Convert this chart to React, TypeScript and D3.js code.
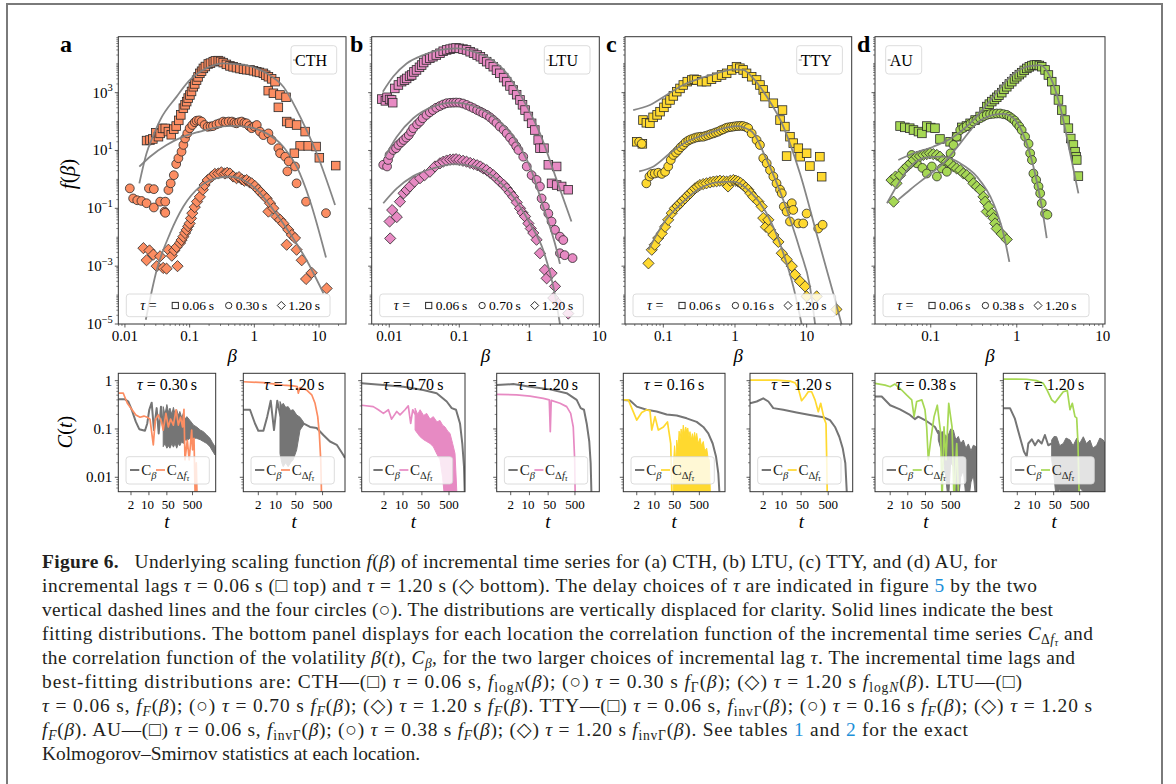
import React from 'react';
import * as d3 from 'd3';

type Pt = [number, number];
type Band = [number, number, number];
type Seg = [string, string?];

const SERIF = '"Liberation Serif", "DejaVu Serif", serif';
const GREY = '#808080';
const EDGE = '#2a2a2a';

const cthColor = '#fc8d62';
const ltuColor = '#e78ac3';
const ttyColor = '#ffd92f';
const auColor = '#a6d854';

// ---------- top row: f(beta), three lags per site ----------
const cthTaus = ['0.06', '0.30', '1.20'];
const ltuTaus = ['0.06', '0.70', '1.20'];
const ttyTaus = ['0.06', '0.16', '1.20'];
const auTaus = ['0.06', '0.38', '1.20'];

const cthSquares: Pt[] = [[0.0216,22],[0.0244,23],[0.027,25],[0.030,41],[0.033,30],[0.035,39],[0.038,58],[0.042,58],[0.047,45],[0.052,35],[0.057,55],[0.062,70],[0.068,110],[0.073,170],[0.08,290],[0.085,380],[0.09,490],[0.095,650],[0.101,830],[0.107,1100],[0.114,1600],[0.12,2000],[0.128,2700],[0.135,3500],[0.144,4650],[0.153,5500],[0.163,6900],[0.175,8000],[0.194,9800],[0.21,10500],[0.232,11800],[0.25,12500],[0.277,12800],[0.3,12000],[0.33,10900],[0.37,9500],[0.42,8400],[0.47,7800],[0.53,7300],[0.6,6800],[0.68,6400],[0.76,6200],[0.86,6100],[0.97,5700],[1.09,5300],[1.2,5000],[1.38,4650],[1.5,4000],[1.65,3550],[1.85,3000],[2.09,2400],[1.64,1170],[1.97,950],[2.49,830],[2.35,310],[3.09,690],[3.16,100],[3.56,87],[4.5,76],[6.1,45],[5.1,14.4],[6.8,14.4],[9.0,13.7],[4.15,8],[10.1,5.6],[18.1,3.0]];
const cthCircles: Pt[] = [[0.0119,0.49],[0.0134,0.22],[0.0155,0.19],[0.018,0.18],[0.0216,0.15],[0.0235,0.49],[0.028,0.46],[0.028,0.107],[0.035,0.17],[0.041,0.077],[0.042,0.07],[0.042,0.17],[0.047,0.43],[0.051,0.73],[0.057,1.4],[0.062,3.4],[0.067,5.4],[0.075,9.1],[0.08,15.6],[0.085,26],[0.092,39],[0.1,59],[0.11,76],[0.12,95],[0.128,107],[0.14,110],[0.153,100],[0.17,76],[0.19,66],[0.21,68],[0.23,70],[0.26,80],[0.29,87],[0.33,100],[0.36,95],[0.4,100],[0.45,100],[0.49,92],[0.53,87],[0.58,95],[0.64,100],[0.7,90],[0.76,87],[0.83,70],[0.91,59],[1.0,68],[1.09,76],[1.22,45],[1.38,34],[1.65,39],[1.85,23],[2.35,12],[2.5,8],[3.0,6.1],[3.4,4.2],[3.24,1.9],[4.25,2.8],[4.5,0.73],[6.3,0.17],[12.8,0.068]];
const cthDiamonds: Pt[] = [[0.0193,0.0042],[0.0216,0.0016],[0.024,0.0035],[0.0275,0.0025],[0.031,0.001],[0.035,0.0022],[0.039,0.00087],[0.044,0.00082],[0.047,0.0037],[0.053,0.0023],[0.058,0.0035],[0.063,0.0046],[0.065,0.001],[0.071,0.0063],[0.075,0.008],[0.08,0.0105],[0.085,0.014],[0.09,0.018],[0.095,0.024],[0.1,0.03],[0.105,0.045],[0.11,0.068],[0.12,0.11],[0.13,0.17],[0.144,0.25],[0.16,0.44],[0.17,0.64],[0.19,0.95],[0.22,1.26],[0.245,1.55],[0.277,1.6],[0.31,1.75],[0.35,1.6],[0.38,1.7],[0.42,1.6],[0.47,1.26],[0.53,1.1],[0.58,1.2],[0.64,1.0],[0.7,0.9],[0.76,0.95],[0.84,0.8],[0.91,0.73],[1.02,0.59],[1.15,0.44],[1.25,0.36],[1.38,0.29],[1.55,0.22],[1.65,0.077],[1.75,0.15],[1.97,0.1],[2.2,0.052],[2.5,0.04],[2.8,0.03],[3.16,0.0055],[3.35,0.018],[3.8,0.012],[4.25,0.0094],[4.5,0.0037],[5.4,0.0016],[6.3,0.00036],[7.7,0.00059],[13.1,0.00017]];
const cthFitTop: Pt[] = [[0.0167,0.73],[0.0216,8],[0.027,30],[0.035,113],[0.063,730],[0.101,2740],[0.18,6900],[0.33,10300],[0.68,9100],[1.55,4650],[2.81,1600],[5.1,148],[9.2,8],[17.7,0.13]];
const cthFitMid: Pt[] = [[0.0167,2.76],[0.0244,6.1],[0.044,15.5],[0.08,30],[0.144,45],[0.26,63],[0.47,71],[0.86,63],[1.55,39],[2.81,13.5],[4.5,2.8],[7.2,0.19],[12.8,0.002]];
const cthFitBot: Pt[] = [[0.021,1.4e-5],[0.031,0.00074],[0.05,0.0138],[0.08,0.115],[0.144,0.56],[0.26,1.1],[0.42,1.26],[0.68,0.95],[1.09,0.44],[1.97,0.088],[3.56,0.0135],[6.43,0.0016],[11.7,0.000115]];

const ltuSquares: Pt[] = [[0.0078,600],[0.0088,520],[0.0093,690],[0.0101,580],[0.0108,560],[0.0112,450],[0.012,1400],[0.0135,1840],[0.015,2400],[0.0165,2700],[0.0177,3100],[0.0195,3700],[0.0209,4080],[0.0225,5200],[0.0245,6100],[0.027,7500],[0.029,9000],[0.031,11000],[0.034,13500],[0.038,15500],[0.042,17500],[0.047,20000],[0.053,23000],[0.059,27000],[0.066,30000],[0.074,32000],[0.082,34000],[0.09,35000],[0.1,34000],[0.113,32000],[0.127,30000],[0.143,26000],[0.16,23000],[0.18,20000],[0.2,17500],[0.22,14500],[0.246,11800],[0.275,9700],[0.306,7900],[0.34,6000],[0.38,4660],[0.43,3300],[0.475,2400],[0.53,1700],[0.59,1240],[0.66,850],[0.736,560],[0.8,380],[0.87,250],[0.97,150],[1.08,87],[1.2,51],[1.34,23],[1.42,12],[1.62,12],[1.87,3.2],[2.08,0.73],[2.46,2.8],[2.46,0.64],[2.9,0.57],[3.6,0.44]];
const ltuCircles: Pt[] = [[0.0082,3.2],[0.0093,2.8],[0.0096,4.7],[0.0101,7.0],[0.0114,10.4],[0.0125,12],[0.0135,15.5],[0.0148,19],[0.016,23],[0.0175,28],[0.019,34],[0.0205,45],[0.022,59],[0.025,80],[0.0275,100],[0.03,130],[0.034,170],[0.038,210],[0.042,250],[0.047,300],[0.053,345],[0.059,390],[0.066,430],[0.074,445],[0.082,450],[0.09,455],[0.1,450],[0.113,420],[0.127,375],[0.143,330],[0.16,290],[0.18,250],[0.2,220],[0.22,195],[0.246,170],[0.275,140],[0.306,113],[0.34,90],[0.38,67],[0.43,52],[0.475,39],[0.53,28],[0.59,20],[0.65,14],[0.7,10.4],[0.82,6.1],[0.92,2.8],[1.08,1.4],[1.27,0.96],[1.42,0.57],[1.5,0.22],[1.67,0.115],[1.87,0.066],[2.08,0.035],[2.33,0.018],[2.74,0.0105],[3.06,0.008],[2.74,0.0028],[3.2,0.0024],[4.15,0.0019]];
const ltuDiamonds: Pt[] = [[0.0101,0.035],[0.0103,0.0091],[0.011,0.087],[0.0128,0.05],[0.0142,0.17],[0.016,0.33],[0.0177,0.43],[0.0197,0.57],[0.023,0.84],[0.0275,1.1],[0.032,1.4],[0.038,1.84],[0.045,2.8],[0.053,3.6],[0.059,4.1],[0.066,4.5],[0.074,4.8],[0.082,4.9],[0.09,5.0],[0.1,4.7],[0.113,4.4],[0.127,4.1],[0.143,3.7],[0.16,3.4],[0.18,3.1],[0.2,2.8],[0.22,2.4],[0.246,2.1],[0.275,1.7],[0.306,1.4],[0.34,1.1],[0.38,0.84],[0.43,0.65],[0.475,0.49],[0.53,0.35],[0.59,0.25],[0.66,0.16],[0.736,0.1],[0.8,0.07],[0.87,0.052],[0.97,0.03],[1.05,0.02],[1.14,0.014],[1.27,0.0082],[1.42,0.0028],[1.67,0.00074],[1.77,0.00038],[2.08,0.00057],[2.33,0.0002],[2.2,0.000079],[2.6,0.00005],[3.6,0.000023]];
const ltuFitTop: Pt[] = [[0.0081,1080],[0.0114,3600],[0.0177,10200],[0.0306,20000],[0.053,30000],[0.092,34000],[0.16,26000],[0.27,15400],[0.475,4660],[0.82,560],[1.42,39],[2.46,0.96],[4.0,0.035]];
const ltuFitMid: Pt[] = [[0.0087,6.1],[0.0128,30],[0.022,130],[0.042,330],[0.082,450],[0.16,345],[0.306,148],[0.59,30],[1.02,2.8],[1.58,0.115],[2.46,0.0036],[2.74,0.0012]];
const ltuFitBot: Pt[] = [[0.0082,0.15],[0.0128,0.49],[0.022,1.3],[0.042,2.4],[0.082,3.4],[0.16,2.8],[0.306,1.26],[0.59,0.25],[1.02,0.03],[1.58,0.0036],[2.2,0.0002],[2.74,1e-5]];

const ttySquares: Pt[] = [[0.0425,20],[0.051,17],[0.052,113],[0.058,91],[0.065,87],[0.072,140],[0.082,170],[0.09,220],[0.102,310],[0.111,430],[0.124,560],[0.138,770],[0.154,1080],[0.171,1400],[0.19,1840],[0.216,2400],[0.249,2740],[0.27,2900],[0.292,2740],[0.343,2400],[0.4,2400],[0.47,2900],[0.555,3400],[0.65,4080],[0.765,4650],[0.9,6100],[1.05,7900],[1.17,7000],[1.3,6100],[1.45,4650],[1.71,3550],[2.0,2740],[2.23,1840],[2.48,1240],[2.62,730],[3.43,430],[4.25,113],[4.6,250],[4.97,67],[5.85,30],[6.5,18],[7.65,12],[8.1,6.1],[5.25,6.4],[9.99,8],[11.1,2.9],[15.3,6.1],[16.2,1.24]];
const ttyCircles: Pt[] = [[0.046,20],[0.05,17],[0.058,0.73],[0.064,1.26],[0.069,1.55],[0.076,1.6],[0.085,1.7],[0.095,1.55],[0.106,1.84],[0.117,2.8],[0.127,4.7],[0.138,7.0],[0.15,8.5],[0.162,10.4],[0.175,13],[0.19,15.5],[0.205,19],[0.223,22],[0.24,24],[0.262,26],[0.285,28],[0.308,29],[0.335,30],[0.362,30],[0.39,32],[0.424,34],[0.46,37],[0.5,39],[0.54,42],[0.585,45],[0.635,50],[0.687,54],[0.75,60],[0.807,63],[0.88,65],[0.95,67],[1.03,69],[1.11,70],[1.2,71],[1.3,70],[1.42,65],[1.53,59],[1.71,39],[2.0,23],[2.23,15.5],[2.48,5.4],[2.77,3.6],[3.08,2.1],[3.43,1.26],[3.8,0.73],[4.25,0.44],[4.5,0.33],[4.8,0.115],[5.26,0.077],[5.85,0.035],[6.2,0.15],[6.5,0.088],[7.65,0.03],[8.96,0.03],[9.99,0.066],[14.5,0.02],[16.7,0.027]];
const ttyDiamonds: Pt[] = [[0.062,0.00125],[0.069,0.0037],[0.076,0.0055],[0.085,0.0094],[0.095,0.0135],[0.106,0.023],[0.117,0.04],[0.131,0.068],[0.145,0.1],[0.158,0.12],[0.171,0.15],[0.185,0.18],[0.2,0.22],[0.218,0.27],[0.236,0.33],[0.255,0.4],[0.277,0.49],[0.3,0.56],[0.325,0.64],[0.36,0.69],[0.4,0.73],[0.45,0.79],[0.5,0.84],[0.555,0.86],[0.617,0.9],[0.69,0.87],[0.765,0.84],[0.8,0.57],[0.86,0.9],[0.95,0.95],[1.03,0.9],[1.11,0.84],[1.2,0.75],[1.3,0.64],[1.42,0.52],[1.53,0.44],[1.65,0.33],[1.8,0.25],[2.12,0.17],[2.36,0.115],[2.48,0.046],[2.7,0.023],[2.92,0.04],[3.08,0.018],[3.43,0.012],[4.03,0.0069],[4.5,0.0028],[5.26,0.0017],[6.2,0.001],[6.86,0.00051],[8.07,0.0003],[9.5,0.0002],[9.99,0.00009],[13.8,0.00009],[26,0.000032]];
const ttyFitTop: Pt[] = [[0.038,250],[0.065,375],[0.111,830],[0.19,1840],[0.325,3100],[0.555,4650],[0.95,6400],[1.3,6100],[1.8,3100],[2.77,730],[4.73,67],[8.07,1.6],[13.8,0.013],[23.5,1.15e-4],[30.6,1e-5]];
const ttyFitMid: Pt[] = [[0.046,1.9],[0.073,2.8],[0.124,8],[0.211,20],[0.362,34],[0.617,54],[1.05,70],[1.71,45],[2.77,4.7],[4.73,0.19],[8.07,0.0036],[11.1,2e-4],[13.1,1e-5]];
const ttyFitBot: Pt[] = [[0.062,0.0037],[0.1,0.03],[0.19,0.17],[0.325,0.49],[0.555,0.79],[0.95,0.84],[1.62,0.38],[2.77,0.066],[4.73,0.0028],[6.5,0.0002],[8.5,1e-5]];

const auSquares: Pt[] = [[0.044,70],[0.05,63],[0.057,59],[0.063,51],[0.072,45],[0.079,39],[0.09,70],[0.1,62],[0.112,59],[0.128,25],[0.168,20],[0.2,30],[0.23,63],[0.26,70],[0.287,87],[0.328,113],[0.375,150],[0.417,220],[0.448,330],[0.48,400],[0.512,490],[0.55,580],[0.585,690],[0.62,820],[0.669,1000],[0.71,1300],[0.765,1600],[0.82,2000],[0.875,2400],[0.94,3000],[1.0,3550],[1.07,4200],[1.14,4900],[1.22,5900],[1.31,6900],[1.4,7800],[1.5,8600],[1.6,9000],[1.71,9100],[1.83,8700],[1.95,7900],[2.13,6100],[2.33,4080],[2.55,2400],[2.79,1240],[3.05,560],[3.33,250],[3.64,113],[3.98,59],[4.24,26],[4.55,15.5],[4.76,9.1],[4.89,6.1],[4.98,4.7],[5.2,1.3]];
const auCircles: Pt[] = [[0.06,7],[0.069,3.6],[0.08,2.5],[0.09,1.6],[0.103,2.8],[0.118,1.26],[0.134,2.4],[0.154,1.84],[0.16,4.7],[0.17,8],[0.184,15.5],[0.2,30],[0.22,51],[0.24,60],[0.262,70],[0.29,85],[0.313,100],[0.34,115],[0.375,130],[0.41,150],[0.448,170],[0.49,180],[0.535,185],[0.585,190],[0.64,190],[0.7,180],[0.765,170],[0.82,150],[0.875,130],[0.94,110],[1.0,87],[1.07,68],[1.14,51],[1.25,30],[1.37,17],[1.43,8],[1.5,4.7],[1.56,1.6],[1.68,0.96],[1.79,0.57],[1.87,0.33],[1.95,0.15],[2.13,0.066],[2.27,0.06]];
const auDiamonds: Pt[] = [[0.035,0.95],[0.037,0.17],[0.039,1.26],[0.04,0.73],[0.044,1.4],[0.048,2.1],[0.053,2.8],[0.058,3.6],[0.063,4.7],[0.069,6.1],[0.075,6.4],[0.082,7],[0.09,7.5],[0.098,8],[0.107,7.5],[0.118,7],[0.128,6.1],[0.14,4.7],[0.154,4.1],[0.168,3.6],[0.184,2.8],[0.2,2.4],[0.22,2.1],[0.24,1.6],[0.262,1.4],[0.287,1.1],[0.313,0.73],[0.343,0.57],[0.375,0.44],[0.41,0.25],[0.43,0.17],[0.448,0.077],[0.47,0.115],[0.512,0.066],[0.535,0.046],[0.56,0.03],[0.585,0.02],[0.669,0.013],[0.765,0.0084]];
const auFitTop: Pt[] = [[0.042,4.7],[0.063,8],[0.107,13.5],[0.184,30],[0.313,113],[0.535,730],[0.837,3550],[1.31,7900],[1.87,9000],[2.44,3550],[3.19,330],[4.17,8],[5.2,0.33]];
const auFitMid: Pt[] = [[0.042,0.2],[0.058,0.45],[0.09,1.26],[0.14,3.6],[0.22,17.7],[0.343,87],[0.535,170],[0.7,185],[0.915,130],[1.2,34],[1.56,2.8],[1.95,0.115],[2.23,0.0093]];
const auFitBot: Pt[] = [[0.031,0.15],[0.04,0.57],[0.058,2.8],[0.09,5.8],[0.14,6.1],[0.22,3.6],[0.343,1.26],[0.535,0.15],[0.7,0.0135],[0.82,0.0014]];

// ---------- bottom row: correlation functions ----------
const cth030Beta: Pt[] = [[0.64,0.41],[1.17,0.41],[1.57,0.37],[2.13,0.25],[3.1,0.14],[4.2,0.099],[7.0,0.092],[8.6,0.13],[10.3,0.25],[12.8,0.35],[15.7,0.095],[20,0.27],[24,0.081],[29.5,0.29],[36,0.1]];
const cth030BetaBand: Band[] = [[36,0.043,0.29],[42,0.05,0.2],[50,0.04,0.32],[58,0.045,0.22],[66,0.04,0.27],[78,0.05,0.2],[90,0.042,0.28],[105,0.05,0.2],[121,0.04,0.25],[140,0.05,0.19],[160,0.045,0.23],[190,0.055,0.17],[218,0.05,0.21],[260,0.06,0.16],[300,0.058,0.18],[398,0.064,0.15],[550,0.065,0.12],[726,0.064,0.11],[1000,0.06,0.095],[1320,0.055,0.088],[1800,0.05,0.075],[2400,0.043,0.064],[3000,0.035,0.052],[3760,0.029,0.043]];
const cth030Df: Pt[] = [[0.64,0.55],[1.0,0.55],[1.44,0.34],[2.13,0.255],[3.1,0.195],[4.5,0.175],[6.4,0.185],[8.6,0.175],[11,0.16],[14.8,0.047],[17.7,0.155],[23,0.195],[31,0.14],[36,0.095],[46,0.21],[57,0.11],[70,0.16],[90,0.12],[114,0.25],[140,0.12],[170,0.175],[205,0.11],[232,0.255],[254,0.023],[313,0.059],[370,0.023],[463,0.095],[500,0.037],[570,0.064],[640,0.003],[700,0.02],[760,0.003]];

const cth120Beta: Pt[] = [[0.55,0.25],[0.98,0.25],[1.5,0.13],[2.0,0.092],[3.1,0.092],[4.3,0.18],[5.8,0.385],[7.7,0.095],[10.2,0.385],[12.9,0.2],[20,0.1],[40,0.12],[72,0.13],[96,0.13],[170,0.11],[302,0.105],[533,0.075],[948,0.055],[1690,0.047],[2980,0.029],[3440,0.025]];
const cth120BetaBand: Band[] = [[12.9,0.031,0.37],[15,0.02,0.3],[17,0.0166,0.34],[21,0.02,0.28],[26,0.0166,0.29],[32,0.02,0.24],[40,0.023,0.25],[54,0.037,0.195],[72,0.095,0.175],[96,0.12,0.14]];
const cth120Df: Pt[] = [[0.55,0.95],[3.1,0.91],[17,0.81],[40,0.78],[57,0.75],[62,0.55],[72,0.72],[128,0.64],[197,0.51],[262,0.34],[330,0.18],[378,0.081],[427,0.023],[465,0.003]];

const ltu070Beta: Pt[] = [[0.3,0.88],[1.9,0.81],[10.3,0.75],[56,0.64],[176,0.55],[412,0.37],[630,0.27],[908,0.25],[1276,0.13],[1550,0.05],[1790,0.0166],[1950,0.003]];
const ltu070Df: Pt[] = [[0.3,0.31],[0.8,0.29],[1.23,0.25],[1.9,0.21],[2.9,0.25],[3.8,0.16],[5.9,0.23],[7.8,0.195],[11.9,0.25],[15.7,0.3],[19.3,0.13],[23,0.25],[28,0.2]];
const ltu070DfBand: Band[] = [[28,0.095,0.27],[35,0.08,0.2],[43,0.069,0.25],[58,0.06,0.19],[75,0.055,0.21],[100,0.05,0.16],[132,0.043,0.18],[180,0.03,0.14],[233,0.023,0.15],[290,0.01,0.12],[356,0.003,0.11],[450,0.003,0.09],[546,0.003,0.081],[680,0.003,0.05],[834,0.003,0.031],[1015,0.003,0.003]];

const ltu120Beta: Pt[] = [[0.6,0.81],[2.5,0.85],[10.5,0.75],[58,0.66],[245,0.55],[580,0.4],[817,0.27],[1085,0.25],[1370,0.13],[1710,0.055],[1930,0.0195],[2100,0.003]];
const ltu120Df: Pt[] = [[0.6,0.52],[3.3,0.51],[10.5,0.48],[33,0.43],[55,0.4],[60,0.088],[65,0.39],[138,0.34],[245,0.29],[346,0.21],[432,0.11],[488,0.023],[513,0.003]];

const tty016Beta: Pt[] = [[0.61,0.4],[1.1,0.39],[2.0,0.29],[4.8,0.25],[11.6,0.23],[28,0.2],[68,0.19],[164,0.166],[395,0.14],[708,0.11],[1100,0.081],[1620,0.05],[2170,0.027],[2660,0.012],[3090,0.003]];
const tty016Df: Pt[] = [[0.61,0.4],[0.95,0.4],[2.0,0.153],[3.1,0.22],[4.8,0.25],[6.4,0.24],[7.5,0.095],[10,0.18],[13.4,0.095],[21,0.11],[30,0.14],[40,0.05],[45,0.003]];
const tty016DfBand: Band[] = [[50,0.003,0.0166],[56,0.003,0.045],[62,0.003,0.02],[68,0.003,0.059],[76,0.003,0.04],[84,0.003,0.09],[91,0.003,0.06],[100,0.003,0.1],[110,0.003,0.07],[121,0.003,0.12],[135,0.003,0.08],[150,0.003,0.11],[164,0.003,0.09],[180,0.003,0.105],[200,0.003,0.07],[219,0.003,0.088],[245,0.003,0.06],[270,0.003,0.08],[293,0.003,0.06],[330,0.003,0.085],[360,0.003,0.06],[395,0.003,0.081],[450,0.003,0.05],[530,0.003,0.064],[600,0.003,0.045],[708,0.003,0.055],[800,0.003,0.035],[955,0.003,0.04],[1080,0.003,0.025],[1200,0.003,0.023],[1360,0.003,0.003]];

const tty120Beta: Pt[] = [[0.65,0.34],[1.15,0.37],[2.0,0.43],[3.1,0.37],[4.7,0.27],[11,0.25],[34,0.22],[106,0.195],[330,0.175],[582,0.153],[890,0.11],[1280,0.069],[1710,0.04],[2140,0.0195],[2530,0.003]];
const tty120Df: Pt[] = [[0.65,1.03],[6.3,1.03],[19.5,0.98],[30,0.9],[39,0.7],[52,0.385],[70,0.47],[92,0.59],[122,0.59],[163,0.4],[215,0.228],[264,0.34],[350,0.166],[414,0.13],[440,0.023],[465,0.003]];

const au038Beta: Pt[] = [[0.5,0.47],[0.92,0.47],[2.0,0.31],[4.9,0.255],[12.2,0.195],[19,0.16],[26,0.18],[48,0.153],[76,0.13],[120,0.11],[162,0.08]];
const au038BetaBand: Band[] = [[162,0.059,0.095],[200,0.04,0.085],[257,0.023,0.088],[320,0.01,0.07],[405,0.003,0.075],[500,0.02,0.1],[640,0.0166,0.095],[800,0.005,0.06],[1010,0.003,0.07],[1250,0.01,0.05],[1600,0.014,0.059],[2000,0.004,0.04],[2520,0.003,0.049],[3200,0.008,0.035],[3980,0.011,0.046],[5100,0.003,0.043]];
const au038Df: Pt[] = [[0.5,0.88],[1.25,0.81],[2.0,0.75],[3.1,0.85],[5.7,0.64],[9.1,0.5],[14.3,0.4],[17.7,0.18],[22.5,0.37],[36,0.4],[48,0.25],[56,0.11],[65,0.023],[81,0.059],[110,0.18],[148,0.31],[202,0.081],[228,0.003],[273,0.11],[328,0.023],[420,0.34],[568,0.11],[682,0.003],[870,0.05],[1045,0.003]];

const au120Beta: Pt[] = [[0.58,0.27],[1.05,0.27],[1.6,0.166],[2.5,0.069],[3.6,0.034],[4.6,0.027],[5.3,0.05],[7.2,0.061],[9.6,0.046],[12.8,0.059],[17.3,0.05],[23,0.075],[31,0.046],[42,0.05]];
const au120BetaBand: Band[] = [[42,0.023,0.059],[52,0.01,0.07],[65,0.003,0.069],[85,0.006,0.045],[117,0.003,0.05],[150,0.005,0.065],[212,0.004,0.059],[280,0.003,0.045],[384,0.003,0.064],[500,0.006,0.05],[689,0.005,0.069],[900,0.003,0.05],[1245,0.003,0.059],[1600,0.005,0.04],[2250,0.005,0.046],[3000,0.003,0.065],[4030,0.003,0.059],[4700,0.003,0.05]];
const au120Df: Pt[] = [[0.58,1.08],[4.6,1.07],[11,1.0],[20,0.88],[28,0.64],[42,0.4],[56,0.35],[75,0.43],[117,0.59],[167,0.62],[212,0.25],[260,0.34],[330,0.18],[384,0.17],[430,0.05],[483,0.003]];

const tTicks = [2, 10, 50, 500];

// ---------- layout ----------
const TOP_Y0 = 36.7, TOP_Y1 = 324;
const TOP_YDOM: [number, number] = [1e-5, 86000];
const BOT_Y0 = 373.3, BOT_Y1 = 491.7;
const BOT_YDOM: [number, number] = [0.00503, 1.42];

interface TopCfg {
  letter: string; name: string; x0: number; x1: number; dom: [number, number];
  color: string; taus: string[]; series: Pt[][]; fits: Pt[][]; nameLeft: boolean; letterX: number;
}

const topPanels: TopCfg[] = [
  { letter: 'a', name: 'CTH', x0: 118.3, x1: 346, dom: [0.0079, 26.1], color: cthColor, taus: cthTaus, series: [cthSquares, cthCircles, cthDiamonds], fits: [cthFitTop, cthFitMid, cthFitBot], nameLeft: false, letterX: 60 },
  { letter: 'b', name: 'LTU', x0: 371.7, x1: 599.3, dom: [0.00561, 10], color: ltuColor, taus: ltuTaus, series: [ltuSquares, ltuCircles, ltuDiamonds], fits: [ltuFitTop, ltuFitMid, ltuFitBot], nameLeft: false, letterX: 350 },
  { letter: 'c', name: 'TTY', x0: 625, x1: 851.7, dom: [0.0292, 42.5], color: ttyColor, taus: ttyTaus, series: [ttySquares, ttyCircles, ttyDiamonds], fits: [ttyFitTop, ttyFitMid, ttyFitBot], nameLeft: false, letterX: 606 },
  { letter: 'd', name: 'AU', x0: 875, x1: 1105, dom: [0.0225, 10.6], color: auColor, taus: auTaus, series: [auSquares, auCircles, auDiamonds], fits: [auFitTop, auFitMid, auFitBot], nameLeft: true, letterX: 857 },
];

interface BotCfg {
  x0: number; x1: number; dom: [number, number]; tau: string; color: string;
  beta: Pt[]; betaBand?: Band[]; df: Pt[]; dfBand?: Band[];
}

const bottomPanels: BotCfg[] = [
  { x0: 118.3, x1: 215.7, dom: [0.64, 4000], tau: '0.30', color: cthColor, beta: cth030Beta, betaBand: cth030BetaBand, df: cth030Df },
  { x0: 243.3, x1: 345, dom: [0.55, 3440], tau: '1.20', color: cthColor, beta: cth120Beta, betaBand: cth120BetaBand, df: cth120Df },
  { x0: 361.7, x1: 465, dom: [0.3, 1950], tau: '0.70', color: ltuColor, beta: ltu070Beta, df: ltu070Df, dfBand: ltu070DfBand },
  { x0: 496.7, x1: 599.3, dom: [0.6, 4050], tau: '1.20', color: ltuColor, beta: ltu120Beta, df: ltu120Df },
  { x0: 623.3, x1: 725, dom: [0.61, 4800], tau: '0.16', color: ttyColor, beta: tty016Beta, df: tty016Df, dfBand: tty016DfBand },
  { x0: 750, x1: 852.7, dom: [0.65, 4000], tau: '1.20', color: ttyColor, beta: tty120Beta, df: tty120Df },
  { x0: 875, x1: 976.7, dom: [0.5, 5400], tau: '0.38', color: auColor, beta: au038Beta, betaBand: au038BetaBand, df: au038Df },
  { x0: 1003.3, x1: 1105, dom: [0.58, 4700], tau: '1.20', color: auColor, beta: au120Beta, betaBand: au120BetaBand, df: au120Df },
];

function marker(shape: number, cx: number, cy: number, fill: string, key: string | number, s = 1, sw = 0.8) {
  if (shape === 0) {
    const h = 4.3 * s;
    return <rect key={key} x={cx - h} y={cy - h} width={2 * h} height={2 * h} fill={fill} stroke={EDGE} strokeWidth={sw} />;
  }
  if (shape === 1) return <circle key={key} cx={cx} cy={cy} r={4.4 * s} fill={fill} stroke={EDGE} strokeWidth={sw} />;
  const r = 5.6 * s;
  return <path key={key} d={`M${cx},${cy - r}L${cx + r},${cy}L${cx},${cy + r}L${cx - r},${cy}Z`} fill={fill} stroke={EDGE} strokeWidth={sw} />;
}

const shiftOf = (s?: string) => (s === 'sub' || s === 'subi' ? 4 : s === 'subsub' ? 6 : 0);

function Rich({ segs, x, y, size, len, anchor }: { segs: Seg[]; x: number; y: number; size: number; len?: number; anchor?: string }) {
  let cur = 0;
  return (
    <text x={x} y={y} fontSize={size} textLength={len} lengthAdjust={len ? 'spacing' : undefined} textAnchor={anchor} style={{ whiteSpace: 'pre' }} fill="#231f20">
      {segs.map(([t, st], k) => {
        const sh = shiftOf(st);
        const dy = sh - cur;
        cur = sh;
        const italic = st === 'i' || st === 'subi' || st === 'subsub';
        const fs = st === 'sub' || st === 'subi' ? size * 0.7 : st === 'subsub' ? size * 0.52 : undefined;
        return (
          <tspan key={k} dy={dy !== 0 ? dy : undefined} fontStyle={italic ? 'italic' : undefined} fontWeight={st === 'b' ? 'bold' : undefined} fill={st === 'blue' ? '#1d8fd8' : undefined} fontSize={fs}>
            {t}
          </tspan>
        );
      })}
    </text>
  );
}

function TopPanel({ p, i }: { p: TopCfg; i: number }) {
  const x = d3.scaleLog().domain(p.dom).range([p.x0, p.x1]);
  const y = d3.scaleLog().domain(TOP_YDOM).range([TOP_Y1, TOP_Y0]);
  const line = d3.line<Pt>().x(d => x(d[0])).y(d => y(d[1])).curve(d3.curveMonotoneX);
  const w = p.x1 - p.x0;
  const clip = `clipTop${i}`;
  const xMajor = [-3, -2, -1, 0, 1, 2].map(k => 10 ** k).filter(v => v >= p.dom[0] && v <= p.dom[1]);
  const xMinor: number[] = [];
  for (let k = -3; k <= 2; k++) for (let m = 2; m <= 9; m++) { const v = m * 10 ** k; if (v >= p.dom[0] && v <= p.dom[1]) xMinor.push(v); }
  const yMajor = [3, 1, -1, -3, -5];
  const yMinor: number[] = [];
  for (let k = -5; k <= 4; k++) for (let m = 1; m <= 9; m++) {
    if (m === 1 && k % 2 !== 0) continue;
    const v = m * 10 ** k;
    if (v >= TOP_YDOM[0] && v <= TOP_YDOM[1]) yMinor.push(v);
  }
  const nx = p.nameLeft ? p.x0 + 10.7 : p.x1 - 55;
  const nw = p.nameLeft ? 36 : 45.7;
  const lx = p.x0 + 8;
  return (
    <g>
      <defs>
        <clipPath id={clip}><rect x={p.x0} y={TOP_Y0} width={w} height={TOP_Y1 - TOP_Y0} /></clipPath>
      </defs>
      <g clipPath={`url(#${clip})`}>
        {p.series.map((s, si) => (
          <g key={si}>{s.map((d, k) => marker(si, x(d[0]), y(d[1]), p.color, k))}</g>
        ))}
        {p.fits.map((f, fi) => (
          <path key={fi} d={line(f) || ''} fill="none" stroke={GREY} strokeWidth={1.8} strokeOpacity={0.95} />
        ))}
      </g>
      {/* tau legend */}
      <rect x={lx} y={294} width={w - 24} height={22.7} rx={3} fill="#fff" fillOpacity={0.8} stroke="#d3d3d3" strokeWidth={0.8} />
      <text x={lx + 14} y={310} fontSize={14}><tspan fontStyle="italic">τ</tspan> =</text>
      {[49, 102.4, 155].map((o, k) => (
        <g key={k}>
          {marker(k, lx + o, 305.5, '#fff', 'm' + k, 0.72, 1)}
          <text x={lx + o + 7} y={310} fontSize={13.5}>{p.taus[k]}{'\u2009'}s</text>
        </g>
      ))}
      {/* site legend */}
      <rect x={nx} y={45.7} width={nw} height={28.3} rx={3} fill="#fff" fillOpacity={0.8} stroke="#d3d3d3" strokeWidth={0.8} />
      <line x1={nx + 2} x2={nx + 5} y1={60} y2={60} stroke="#888" strokeWidth={1} />
      <text x={nx + 4} y={65.5} fontSize={16}>{p.name}</text>
      {/* axes */}
      <rect x={p.x0} y={TOP_Y0} width={w} height={TOP_Y1 - TOP_Y0} fill="none" stroke="#333" strokeWidth={1} />
      {xMinor.map((v, k) => <line key={'xm' + k} x1={x(v)} x2={x(v)} y1={TOP_Y1} y2={TOP_Y1 + 2} stroke="#333" strokeWidth={0.6} />)}
      {xMajor.map((v, k) => (
        <g key={'xM' + k}>
          <line x1={x(v)} x2={x(v)} y1={TOP_Y1} y2={TOP_Y1 + 3.5} stroke="#333" strokeWidth={0.8} />
          <text x={x(v)} y={341} fontSize={15} textAnchor="middle">{String(v)}</text>
        </g>
      ))}
      {yMinor.map((v, k) => <line key={'ym' + k} x1={p.x0 - 2} x2={p.x0} y1={y(v)} y2={y(v)} stroke="#333" strokeWidth={0.6} />)}
      {yMajor.map((e, k) => (
        <g key={'yM' + k}>
          <line x1={p.x0 - 3.5} x2={p.x0} y1={y(10 ** e)} y2={y(10 ** e)} stroke="#333" strokeWidth={0.8} />
          {i === 0 && (
            <text x={p.x0 - 5.5} y={y(10 ** e) + 5} fontSize={15} textAnchor="end">
              10<tspan dy={-6.5} fontSize={10.5}>{e < 0 ? '\u2212' + -e : String(e)}</tspan>
            </text>
          )}
        </g>
      ))}
      <text x={(p.x0 + p.x1) / 2} y={362} fontSize={19} fontStyle="italic" textAnchor="middle">β</text>
      <text x={p.letterX} y={51.7} fontSize={24} fontWeight="bold">{p.letter}</text>
    </g>
  );
}

function BottomPanel({ p, i }: { p: BotCfg; i: number }) {
  const x = d3.scaleLog().domain(p.dom).range([p.x0, p.x1]);
  const y = d3.scaleLog().domain(BOT_YDOM).range([BOT_Y1, BOT_Y0]);
  const line = d3.line<Pt>().x(d => x(d[0])).y(d => y(d[1]));
  const area = d3.area<Band>().x(d => x(d[0])).y0(d => y(d[1])).y1(d => y(d[2]));
  const w = p.x1 - p.x0;
  const clip = `clipBot${i}`;
  const yMinor: number[] = [];
  for (let k = -3; k <= 0; k++) for (let m = 2; m <= 9; m++) { const v = m * 10 ** k; if (v >= BOT_YDOM[0] && v <= BOT_YDOM[1]) yMinor.push(v); }
  const lx = p.x0 + 7.7;
  return (
    <g>
      <defs>
        <clipPath id={clip}><rect x={p.x0} y={BOT_Y0} width={w} height={BOT_Y1 - BOT_Y0} /></clipPath>
      </defs>
      <g clipPath={`url(#${clip})`}>
        <path d={line(p.beta) || ''} fill="none" stroke="#757575" strokeWidth={2} strokeLinejoin="round" />
        {p.betaBand && <path d={area(p.betaBand) || ''} fill="#757575" stroke="#757575" strokeWidth={1} />}
        {p.dfBand && <path d={area(p.dfBand) || ''} fill={p.color} stroke={p.color} strokeWidth={1} />}
        <path d={line(p.df) || ''} fill="none" stroke={p.color} strokeWidth={1.7} strokeLinejoin="round" />
      </g>
      <text x={(p.x0 + p.x1) / 2} y={389.5} fontSize={16} textAnchor="middle"><tspan fontStyle="italic">τ</tspan> = {p.tau}{'\u2009'}s</text>
      {/* legend */}
      <rect x={lx} y={456.7} width={83.3} height={27.3} rx={3} fill="#fff" fillOpacity={0.8} stroke="#d3d3d3" strokeWidth={0.8} />
      <line x1={p.x0 + 11.7} x2={p.x0 + 21} y1={470} y2={470} stroke="#757575" strokeWidth={2} />
      <Rich segs={[['C'], ['β', 'subi']]} x={p.x0 + 23} y={475} size={15} />
      <line x1={p.x0 + 37.7} x2={p.x0 + 46.7} y1={470} y2={470} stroke={p.color} strokeWidth={1.7} />
      <Rich segs={[['C'], ['Δ', 'sub'], ['f', 'subi'], ['τ', 'subsub']]} x={p.x0 + 48.4} y={475} size={15} />
      {/* axes */}
      <rect x={p.x0} y={BOT_Y0} width={w} height={BOT_Y1 - BOT_Y0} fill="none" stroke="#333" strokeWidth={1} />
      {tTicks.map((v, k) => (
        <g key={'xt' + k}>
          <line x1={x(v)} x2={x(v)} y1={BOT_Y1} y2={BOT_Y1 + 3.5} stroke="#333" strokeWidth={0.8} />
          <text x={x(v) + (v === 10 ? -1.5 : v === 50 ? 1.5 : 0)} y={508.5} fontSize={13} textAnchor="middle">{v}</text>
        </g>
      ))}
      {yMinor.map((v, k) => <line key={'ym' + k} x1={p.x0 - 2} x2={p.x0} y1={y(v)} y2={y(v)} stroke="#333" strokeWidth={0.6} />)}
      {[1, 0.1, 0.01].map((v, k) => (
        <g key={'yt' + k}>
          <line x1={p.x0 - 3.5} x2={p.x0} y1={y(v)} y2={y(v)} stroke="#333" strokeWidth={0.8} />
          {i === 0 && <text x={p.x0 - 6} y={y(v) + 5} fontSize={15} textAnchor="end">{String(v)}</text>}
        </g>
      ))}
      <text x={(p.x0 + p.x1) / 2} y={528} fontSize={19} fontStyle="italic" textAnchor="middle">t</text>
    </g>
  );
}

// ---------- caption ----------
const T: Seg = ['τ', 'i'];
const Bt: Seg = ['β', 'i'];
const F: Seg = ['f', 'i'];
const fOf = (sub: Seg[]): Seg[] => [F, ...sub, ['('], Bt, [')']];
const logN: Seg[] = [['log', 'sub'], ['N', 'subi']];
const gam: Seg[] = [['Γ', 'sub']];
const fF: Seg[] = [['F', 'subi']];
const inv: Seg[] = [['invΓ', 'sub']];

const captionLines: { segs: Seg[]; len: number }[] = [
  { segs: [['Figure 6.', 'b'], ['   Underlying scaling function '], F, ['('], Bt, [') of incremental time series for (a) CTH, (b) LTU, (c) TTY, and (d) AU, for']], len: 955 },
  { segs: [['incremental lags '], T, [' = 0.06 s (□ top) and '], T, [' = 1.20 s (◇ bottom). The delay choices of '], T, [' are indicated in figure '], ['5', 'blue'], [' by the two']], len: 995 },
  { segs: [['vertical dashed lines and the four circles (○). The distributions are vertically displaced for clarity. Solid lines indicate the best']], len: 1011 },
  { segs: [['fitting distributions. The bottom panel displays for each location the correlation function of the incremental time series '], ['C', 'i'], ['Δ', 'sub'], ['f', 'subi'], ['τ', 'subsub'], [' and']], len: 1051 },
  { segs: [['the correlation function of the volatility '], Bt, ['('], ['t', 'i'], ['), '], ['C', 'i'], ['β', 'subi'], [', for the two larger choices of incremental lag '], T, ['. The incremental time lags and']], len: 1033 },
  { segs: [['best-fitting distributions are: CTH—(□) '], T, [' = 0.06 s, '], ...fOf(logN), ['; (○) '], T, [' = 0.30 s '], ...fOf(gam), ['; (◇) '], T, [' = 1.20 s '], ...fOf(logN), ['. LTU—(□)']], len: 980 },
  { segs: [T, [' = 0.06 s, '], ...fOf(fF), ['; (○) '], T, [' = 0.70 s '], ...fOf(fF), ['; (◇) '], T, [' = 1.20 s '], ...fOf(fF), ['. TTY—(□) '], T, [' = 0.06 s, '], ...fOf(inv), ['; (○) '], T, [' = 0.16 s '], ...fOf(fF), ['; (◇) '], T, [' = 1.20 s']], len: 1050 },
  { segs: [...fOf(fF), ['. AU—(□) '], T, [' = 0.06 s, '], ...fOf(inv), ['; (○) '], T, [' = 0.38 s '], ...fOf(fF), ['; (◇) '], T, [' = 1.20 s '], ...fOf(inv), ['. See tables '], ['1', 'blue'], [' and '], ['2', 'blue'], [' for the exact']], len: 926 },
  { segs: [['Kolmogorov–Smirnov statistics at each location.']], len: 378 },
];

export default function App() {
  return (
    <div style={{ position: 'absolute', left: 0, top: 0 }}>
      <svg width={1176} height={784} style={{ display: 'block', background: '#fff', fontFamily: SERIF }}>
        <rect x={7} y={4} width={1155} height={800} fill="none" stroke="#7a7a7a" strokeWidth={2} />
        {topPanels.map((p, i) => <TopPanel key={i} p={p} i={i} />)}
        {bottomPanels.map((p, i) => <BottomPanel key={i} p={p} i={i} />)}
        <text transform="translate(75,174) rotate(-90)" fontSize={21} textAnchor="middle">
          <tspan fontStyle="italic">f</tspan>(<tspan fontStyle="italic">β</tspan>)
        </text>
        <text transform="translate(72,432) rotate(-90)" fontSize={20} textAnchor="middle">
          <tspan fontStyle="italic">C</tspan>(<tspan fontStyle="italic">t</tspan>)
        </text>
        {captionLines.map((l, k) => (
          <Rich key={k} segs={l.segs} x={42} y={568 + 24 * k} size={19.4} len={l.len} />
        ))}
      </svg>
    </div>
  );
}
